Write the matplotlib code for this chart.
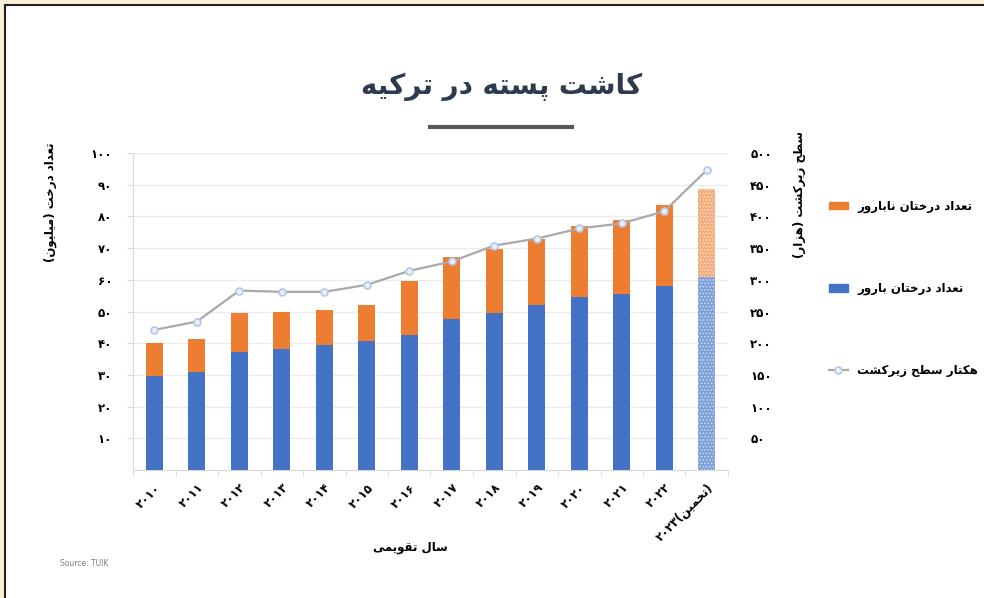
import numpy as np
import matplotlib
matplotlib.use("Agg")
import matplotlib.pyplot as plt
from matplotlib.lines import Line2D
from matplotlib.patches import Rectangle

# data
years = ["۲۰۱۰", "۲۰۱۱", "۲۰۱۲", "۲۰۱۳", "۲۰۱۴", "۲۰۱۵", "۲۰۱۶",
         "۲۰۱۷", "۲۰۱۸", "۲۰۱۹", "۲۰۲۰", "۲۰۲۱", "۲۰۲۲", "۲۰۲۳"]
bearing = [29.7, 30.9, 37.2, 38.3, 39.4, 40.7, 42.5, 47.6, 49.5, 52.1, 54.6, 55.6, 58.2, 61.0]
total = [40.2, 41.2, 49.5, 50.0, 50.4, 52.2, 59.7, 67.2, 69.8, 72.9, 77.1, 78.9, 83.5, 88.6]
area = [221, 234, 283, 281, 281, 292, 314, 329, 354, 365, 381, 389, 408, 473]
left_ticks = [10, 20, 30, 40, 50, 60, 70, 80, 90, 100]
right_ticks = [50, 100, 150, 200, 250, 300, 350, 400, 450, 500]

nonbearing = [t - b for t, b in zip(total, bearing)]

# --- tiny arabic/persian shaper (no bidi lib available) ---
FORMS = {
    'ا': (0xFE8D, 0xFE8E, None, None), 'ب': (0xFE8F, 0xFE90, 0xFE91, 0xFE92),
    'ت': (0xFE95, 0xFE96, 0xFE97, 0xFE98), 'ح': (0xFEA1, 0xFEA2, 0xFEA3, 0xFEA4),
    'خ': (0xFEA5, 0xFEA6, 0xFEA7, 0xFEA8), 'د': (0xFEA9, 0xFEAA, None, None),
    'ر': (0xFEAD, 0xFEAE, None, None), 'ز': (0xFEAF, 0xFEB0, None, None),
    'س': (0xFEB1, 0xFEB2, 0xFEB3, 0xFEB4), 'ش': (0xFEB5, 0xFEB6, 0xFEB7, 0xFEB8),
    'ط': (0xFEC1, 0xFEC2, 0xFEC3, 0xFEC4), 'ع': (0xFEC9, 0xFECA, 0xFECB, 0xFECC),
    'ق': (0xFED5, 0xFED6, 0xFED7, 0xFED8), 'ل': (0xFEDD, 0xFEDE, 0xFEDF, 0xFEE0),
    'م': (0xFEE1, 0xFEE2, 0xFEE3, 0xFEE4), 'ن': (0xFEE5, 0xFEE6, 0xFEE7, 0xFEE8),
    'ه': (0xFEE9, 0xFEEA, 0xFEEB, 0xFEEC), 'و': (0xFEED, 0xFEEE, None, None),
    'پ': (0xFB56, 0xFB57, 0xFB58, 0xFB59), 'ک': (0xFB8E, 0xFB8F, 0xFB90, 0xFB91),
    'ی': (0xFBFC, 0xFBFD, 0xFBFE, 0xFBFF),
}


def dual(c):
    return c in FORMS and FORMS[c][2] is not None


def fa(s):
    out = []
    for i, c in enumerate(s):
        if c not in FORMS:
            out.append(c)
            continue
        prev = s[i - 1] if i > 0 else ''
        nxt = s[i + 1] if i + 1 < len(s) else ''
        jp = dual(prev)
        jn = dual(c) and nxt in FORMS
        iso, fin, ini, med = FORMS[c]
        if jp and jn:
            g = med
        elif jp:
            g = fin
        elif jn:
            g = ini
        else:
            g = iso
        out.append(chr(g))
    vis = ''.join(out)[::-1]
    return vis.translate(str.maketrans('()', ')('))


plt.rcParams['font.family'] = ['DejaVu Sans']
plt.rcParams['hatch.linewidth'] = 0.8

blue = '#4472C4'
orange = '#ED7D31'

fig = plt.figure(figsize=(9.84, 5.98), dpi=100)
W, H = 984.0, 598.0
ax = fig.add_axes([133 / W, 1 - 470 / H, (728 - 133) / W, (470 - 153) / H])
ax2 = ax.twinx()

x = np.arange(len(years))
bw = 0.4
cb = [blue] * (len(x) - 1) + ['#7E9FDC']
co = [orange] * (len(x) - 1) + ['#F4AE7E']
b1 = ax.bar(x, bearing, bw, color=cb, edgecolor=cb, linewidth=0, zorder=3)
b2 = ax.bar(x, nonbearing, bw, bottom=bearing, color=co, edgecolor=co, linewidth=0, zorder=3)
# estimate year gets a dotted fill
b1[-1].set_hatch('.....')
b1[-1].set_edgecolor('#C9D6F0')
b2[-1].set_hatch('.....')
b2[-1].set_edgecolor('#FAD7BF')

ln, = ax2.plot(x, area, color='#A9A9A9', lw=1.6, marker='o', ms=5,
               mfc='#E9EEF7', mec='#B4C7E7', mew=1.2, zorder=4)

ax.set_xlim(-0.5, len(x) - 0.5)
ax.set_ylim(0, 100)
ax2.set_ylim(0, 500)
ax.set_yticks(left_ticks)
ax.set_yticklabels(["۱۰", "۲۰", "۳۰", "۴۰", "۵۰", "۶۰", "۷۰", "۸۰", "۹۰", "۱۰۰"],
                   fontsize=8.5, fontweight='bold')
ax2.set_yticks(right_ticks)
ax2.set_yticklabels(["۵۰", "۱۰۰", "۱۵۰", "۲۰۰", "۲۵۰", "۳۰۰", "۳۵۰", "۴۰۰", "۴۵۰", "۵۰۰"],
                    fontsize=8.5, fontweight='bold')
ax.grid(axis='y', color='#EBEBEB', lw=0.9, zorder=0)
ax.set_axisbelow(True)

for a in (ax, ax2):
    a.spines['top'].set_visible(False)
    a.spines['right'].set_visible(False)
ax2.spines['left'].set_visible(False)
ax2.spines['bottom'].set_visible(False)
ax.spines['left'].set_color('#D9D9D9')
ax.spines['bottom'].set_color('#D9D9D9')
ax.tick_params(axis='y', length=4, color='#D9D9D9', pad=11)
ax2.tick_params(axis='y', length=0, pad=16)

xl = list(years)
xl[-1] = "۲۰۲۳" + fa("(تخمین)")
ax.set_xticks(x)
ax.set_xticklabels(xl, rotation=45, ha='right', va='top', rotation_mode='anchor',
                   fontsize=8.5, fontweight='bold')
ax.tick_params(axis='x', length=0, pad=8)
ax.set_xticks(np.arange(-0.5, len(x), 1), minor=True)
ax.tick_params(axis='x', which='minor', length=4, color='#D9D9D9')

# titles and labels
fig.text(502 / W, 1 - 87 / H, fa("کاشت پسته در ترکیه"), ha='center', va='center',
         fontsize=20, fontweight='bold', color='#2E3B4E')
fig.add_artist(Line2D([430 / W, 572 / W], [1 - 127 / H, 1 - 127 / H], color='#595959', lw=3))
fig.text(50 / W, 1 - 202 / H, fa("تعداد درخت (میلیون)"), rotation=90, ha='center', va='center',
         fontsize=8.5, fontweight='bold')
fig.text(800 / W, 1 - 194 / H, fa("سطح زیرکشت (هزار)"), rotation=90, ha='center', va='center',
         fontsize=8.5, fontweight='bold')
fig.text(410 / W, 1 - 548 / H, fa("سال تقویمی"), ha='center', va='center',
         fontsize=8.5, fontweight='bold')
fig.text(60 / W, 1 - 563 / H, "Source: TUIK", ha='left', va='center', fontsize=5.5, color='#7F7F7F')

h1 = Rectangle((0, 0), 1, 1, color=orange)
h2 = Rectangle((0, 0), 1, 1, color=blue)
fig.legend([h1, h2, ln], [fa("تعداد درختان نابارور"), fa("تعداد درختان بارور"), fa("هکتار سطح زیرکشت")],
           loc='upper left', bbox_to_anchor=(818 / W, 1 - 189 / H), frameon=False,
           prop={'size': 8.5, 'weight': 'bold'}, labelspacing=5.85, handlelength=1.6,
           handleheight=0.6, handletextpad=0.8)

# slide frame
fig.add_artist(Rectangle((0, 0), 4 / W, 1, color='#FDEFD9', transform=fig.transFigure, lw=0))
fig.add_artist(Rectangle((0, 1 - 4 / H), 1, 4 / H, color='#FDEFD9', transform=fig.transFigure, lw=0))
fig.add_artist(Line2D([5 / W, 5 / W], [0, 1 - 5 / H], color='#222222', lw=1.5))
fig.add_artist(Line2D([5 / W, 1], [1 - 5 / H, 1 - 5 / H], color='#222222', lw=1.5))

fig.savefig("out.png", dpi=100)
